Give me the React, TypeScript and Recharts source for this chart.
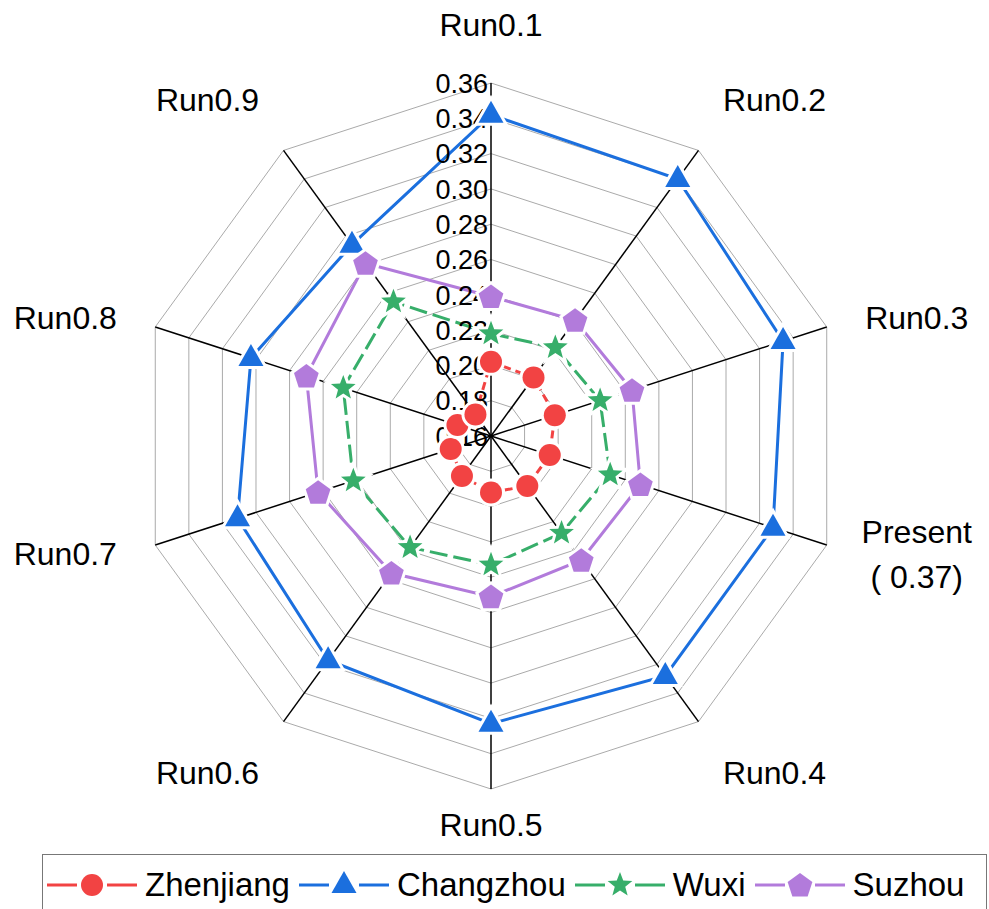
import React from "react";
import {
  RadarChart,
  Radar,
  PolarGrid,
  PolarAngleAxis,
  PolarRadiusAxis,
  Legend,
} from "recharts";

const categories = [
  "Run0.1",
  "Run0.2",
  "Run0.3",
  "Present\n( 0.37)",
  "Run0.4",
  "Run0.5",
  "Run0.6",
  "Run0.7",
  "Run0.8",
  "Run0.9",
];
const zhenjiang = [0.202, 0.201, 0.198, 0.195, 0.195, 0.192, 0.188, 0.184, 0.18, 0.175];
const changzhou = [0.342, 0.34, 0.334, 0.328, 0.328, 0.323, 0.317, 0.311, 0.303, 0.294];
const wuxi = [0.218, 0.222, 0.225, 0.231, 0.228, 0.233, 0.238, 0.242, 0.248, 0.254];
const suzhou = [0.239, 0.241, 0.244, 0.249, 0.247, 0.251, 0.256, 0.263, 0.27, 0.281];
const radiusTickLabels = [0.16, 0.18, 0.2, 0.22, 0.24, 0.26, 0.28, 0.3, 0.32, 0.34, 0.36];
const radiusMin = 0.16;
const radiusMax = 0.36;

// the radius axis is drawn as offset from 0.16 (the chart's centre value)
const data = categories.map((c, i) => ({
  category: c,
  Zhenjiang: zhenjiang[i],
  Changzhou: changzhou[i],
  Wuxi: wuxi[i],
  Suzhou: suzhou[i],
}));
const radiusTicks = radiusTickLabels.map((t) => Math.round((t - radiusMin) * 1000) / 1000);

const FONT = "'Liberation Sans', Arial, sans-serif";
const CX = 491;
const CY = 436;
const OUTER = 353;

type Shape = "circle" | "triangle" | "star" | "pentagon";

const names = ["Zhenjiang", "Changzhou", "Wuxi", "Suzhou"];
const styles: Record<string, { color: string; shape: Shape; dash?: string }> = {
  Zhenjiang: { color: "#F24343", shape: "circle", dash: "8 5" },
  Changzhou: { color: "#1B6FDE", shape: "triangle" },
  Wuxi: { color: "#37AE6A", shape: "star", dash: "18 6" },
  Suzhou: { color: "#B27BDB", shape: "pentagon" },
};

function polyPoints(x: number, y: number, n: number, outer: number, inner?: number) {
  const pts: string[] = [];
  const count = inner ? n * 2 : n;
  for (let k = 0; k < count; k++) {
    const r = inner && k % 2 === 1 ? inner : outer;
    const a = -Math.PI / 2 + (k * Math.PI * 2) / count;
    pts.push(`${x + r * Math.cos(a)},${y + r * Math.sin(a)}`);
  }
  return pts.join(" ");
}

function Marker({ shape, x, y, color, halo = true }: { shape: Shape; x: number; y: number; color: string; halo?: boolean }) {
  const common = {
    fill: color,
    stroke: halo ? "#fff" : "none",
    strokeWidth: halo ? 6 : 0,
    paintOrder: "stroke" as const,
  };
  if (shape === "circle") return <circle cx={x} cy={y} r={11} {...common} />;
  if (shape === "triangle")
    return <polygon points={`${x},${y - 14} ${x - 12.5},${y + 8} ${x + 12.5},${y + 8}`} {...common} />;
  if (shape === "star") return <polygon points={polyPoints(x, y, 5, 13, 5.5)} {...common} />;
  return <polygon points={polyPoints(x, y + 1, 5, 13)} {...common} />;
}

function makeDot(name: string) {
  const s = styles[name];
  return (p: any) => (
    <Marker key={`${name}-${p.index}`} shape={s.shape} x={p.cx} y={p.cy} color={s.color} />
  );
}

function AngleTick(props: any) {
  const { payload } = props;
  const ang = (payload.coordinate * Math.PI) / 180;
  const ux = Math.cos(ang);
  const uy = -Math.sin(ang);
  const vx = CX + ux * OUTER;
  const vy = CY + uy * OUTER;
  const ax = Math.abs(ux);
  const ay = Math.abs(uy);
  const dx = Math.sign(ux) * (ax > 0.9 ? 90 : ax > 0.1 ? 76 : 0);
  const dy =
    uy < -0.99 ? -58 : uy > 0.99 ? 36 : ay > 0.5 ? Math.sign(uy) * 51 : Math.sign(uy) * 9;
  const x = vx + dx;
  const y = vy + dy;
  const lines = String(payload.value).split("\n");
  const lh = 45;
  return (
    <text x={x} y={y} textAnchor="middle" fontSize={32} fontFamily={FONT} fill="#000">
      {lines.map((l, i) => (
        <tspan key={i} x={x} y={y + (i - (lines.length - 1) / 2) * lh} dy="0.35em">
          {l}
        </tspan>
      ))}
    </text>
  );
}

function RadiusTick(props: any) {
  const { x, y, payload } = props;
  return (
    <text x={x - 3} y={y} dy="0.36em" textAnchor="end" fontSize={27} fontFamily={FONT} fill="#000">
      {(Number(payload.value) + radiusMin).toFixed(2)}
    </text>
  );
}

function LegendBox() {
  return (
    <div
      style={{
        display: "flex",
        alignItems: "center",
        height: 60,
        boxSizing: "border-box",
        border: "1.5px solid #777",
        borderBottom: "none",
        paddingLeft: 3,
        fontFamily: FONT,
        fontSize: 33,
        color: "#000",
      }}
    >
      {names.map((n) => {
        const s = styles[n];
        return (
          <div key={n} style={{ display: "flex", alignItems: "center", marginRight: 8 }}>
            <svg width={92} height={40}>
              <line x1={1} y1={20} x2={31} y2={20} stroke={s.color} strokeWidth={3} />
              <line x1={61} y1={20} x2={91} y2={20} stroke={s.color} strokeWidth={3} />
              <Marker shape={s.shape} x={46} y={20} color={s.color} halo={false} />
            </svg>
            <span style={{ marginLeft: 7, lineHeight: "40px" }}>{n}</span>
          </div>
        );
      })}
    </div>
  );
}

export default function App() {
  return (
    <div style={{ position: "absolute", left: 0, top: 0, width: 989, height: 909, background: "#fff" }}>
      <RadarChart
        width={989}
        height={909}
        data={data}
        cx={CX}
        cy={CY}
        outerRadius={OUTER}
        margin={{ top: 0, right: 0, bottom: 0, left: 0 }}
      >
        <PolarGrid gridType="polygon" radialLines={false} stroke="#aaaaaa" strokeWidth={1} />
        <PolarGrid gridType="polygon" polarRadius={[]} stroke="#000" strokeWidth={1.5} />
        <PolarAngleAxis dataKey="category" tick={AngleTick} tickLine={false} axisLine={false} />
        <PolarRadiusAxis
          angle={90}
          type="number"
          domain={[0, Math.round((radiusMax - radiusMin) * 1000) / 1000]}
          ticks={radiusTicks as any}
          tickCount={11}
          allowDecimals
          allowDataOverflow
          axisLine={false}
          tickLine={false}
          tick={RadiusTick}
        />
        {names.map((n) => (
          <Radar
            key={n}
            name={n}
            dataKey={(d: any) => d[n] - radiusMin}
            stroke={styles[n].color}
            strokeWidth={3}
            strokeDasharray={styles[n].dash}
            fill="none"
            fillOpacity={0}
            dot={makeDot(n)}
            activeDot={false}
            isAnimationActive={false}
          />
        ))}
        <Legend
          content={LegendBox}
          wrapperStyle={{ left: 42, top: 854, width: 945, height: 60 }}
        />
      </RadarChart>
    </div>
  );
}
